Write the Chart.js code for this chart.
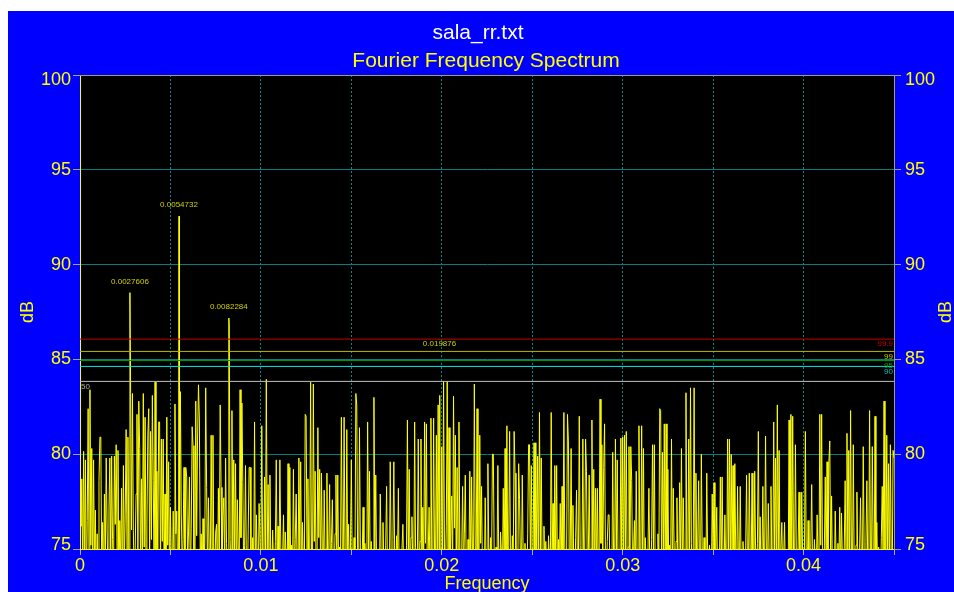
<!DOCTYPE html>
<html>
<head>
<meta charset="utf-8">
<title>sala_rr.txt - Fourier Frequency Spectrum</title>
<script src="https://cdn.jsdelivr.net/npm/chart.js@4.4.1/dist/chart.umd.min.js"></script>
<style>
  html, body { margin: 0; padding: 0; background: #ffffff; overflow: hidden; }
  canvas { display: block; }
</style>
</head>
<body>
<canvas id="spectrum" width="954" height="592"></canvas>
<script>
// ---- data -------------------------------------------------------------
// spectrum level (dB) on a uniform frequency grid, one value per bin
const FREQ_STEP = 0.00005;
const spectrumDb = [
  77.5, 76.2, 78.7, 73.5, 80.15, 74.0, 79.7, 72.8, 76.5, 82.4,
  74.5, 83.4, 75.2, 80.3, 73.0, 79.7, 74.2, 77.05, 72.5, 75.8,
  73.6, 78.6, 80.9, 80.9, 74.0, 76.4, 73.2, 77.9, 74.5, 79.8,
  76.0, 73.4, 77.0, 79.8, 74.1, 79.9, 75.5, 73.0, 79.9, 76.3,
  80.5, 74.6, 80.2, 73.1, 76.5, 74.3, 78.2, 72.9, 79.4, 74.0,
  76.8, 81.3, 74.7, 80.9, 75.0, 73.5, 83.2, 76.0, 83.2, 75.96,
  73.0, 74.8, 77.9, 82.1, 74.2, 82.8, 80.3, 73.6, 78.7, 74.4,
  83.2, 75.1, 81.95, 73.8, 76.3, 81.0, 82.4, 74.0, 81.2, 75.5,
  83.1, 78.6, 73.2, 83.8, 75.0, 79.1, 74.3, 81.7, 81.7, 73.9,
  80.8, 75.4, 80.8, 73.5, 77.9, 74.6, 81.95, 75.2, 79.6, 73.3,
  77.2, 74.0, 72.6, 77.0, 74.4, 82.65, 75.8, 77.0, 73.4, 74.2,
  73.9, 83.3, 76.9, 74.0, 75.5, 79.3, 73.6, 79.3, 78.8, 74.2,
  75.9, 78.8, 73.3, 76.1, 81.45, 80.45, 74.5, 73.0, 82.8, 75.7,
  80.8, 83.66, 81.8, 74.1, 75.8, 73.2, 76.6, 74.0, 75.3, 83.5,
  78.25, 73.7, 77.7, 74.6, 72.9, 81.0, 75.0, 81.0, 74.3, 73.4,
  75.9, 76.3, 73.1, 78.2, 74.8, 82.6, 78.25, 73.5, 76.7, 77.7,
  74.0, 79.8, 75.3, 73.6, 74.5, 86.9, 75.5, 73.8, 82.3, 75.0,
  79.7, 74.2, 79.5, 73.3, 77.6, 74.9, 73.0, 83.4, 75.6, 82.7,
  78.5, 73.9, 75.2, 79.4, 74.0, 72.8, 76.1, 79.3, 79.3, 74.5,
  73.2, 75.6, 74.1, 81.7, 73.5, 76.8, 74.3, 73.1, 77.4, 77.4,
  73.8, 81.5, 74.6, 72.9, 78.8, 74.5, 83.95, 75.0, 78.4, 73.6,
  78.9, 74.4, 73.1, 76.0, 74.2, 72.8, 75.4, 79.7, 73.9, 76.2,
  74.0, 79.7, 75.1, 73.2, 74.6, 76.8, 73.5, 75.9, 74.3, 72.9,
  79.5, 74.8, 79.3, 73.6, 75.2, 74.0, 79.2, 73.3, 75.5, 77.9,
  74.2, 73.0, 79.8, 75.0, 79.6, 73.4, 76.4, 74.1, 73.2, 82.1,
  82.0, 74.5, 78.7, 73.3, 75.1, 83.8, 74.2, 73.6, 83.7, 75.4,
  79.1, 74.0, 73.2, 81.4, 75.6, 79.2, 73.8, 79.0, 74.7, 73.1,
  78.1, 74.3, 75.0, 79.0, 73.5, 74.8, 78.4, 73.0, 75.3, 77.6,
  74.1, 73.4, 75.8, 78.9, 74.0, 78.9, 73.6, 75.1, 74.4, 81.95,
  75.0, 73.5, 81.95, 74.6, 73.1, 81.3, 74.2, 76.3, 73.4, 75.0,
  79.7, 74.1, 73.3, 75.6, 74.0, 83.2, 82.6, 74.4, 73.2, 81.4,
  75.1, 73.7, 74.5, 77.2, 73.4, 75.3, 74.2, 73.0, 81.7, 74.8,
  79.1, 73.5, 75.4, 74.0, 73.2, 83.0, 74.6, 78.9, 73.8, 75.0,
  74.2, 73.1, 77.9, 74.5, 73.6, 76.4, 74.0, 72.9, 75.2, 78.3,
  73.8, 74.6, 73.0, 79.6, 74.9, 73.4, 75.5, 79.6, 74.1, 73.3,
  75.7, 74.4, 78.2, 73.2, 74.8, 73.5, 75.0, 76.3, 73.7, 74.5,
  73.1, 75.2, 81.8, 74.0, 79.2, 73.4, 75.6, 76.7, 74.2, 73.0,
  81.7, 75.1, 73.5, 74.6, 80.8, 73.9, 75.4, 80.8, 73.2, 77.2,
  74.0, 81.7, 75.3, 81.6, 73.6, 74.8, 77.2, 73.4, 81.9, 74.5,
  73.2, 81.9, 75.0, 73.7, 81.0, 74.3, 82.6, 74.0, 75.2, 73.5,
  80.4, 74.1, 83.84, 75.0, 73.6, 76.2, 83.84, 74.8, 81.4, 73.3,
  75.6, 77.8, 74.0, 83.05, 76.1, 81.0, 73.4, 79.3, 74.5, 81.7,
  75.0, 73.2, 74.7, 78.3, 73.6, 75.8, 78.9, 74.1, 73.0, 75.5,
  74.3, 79.1, 73.8, 78.8, 74.6, 73.1, 83.7, 75.2, 73.9, 82.4,
  74.4, 73.2, 81.0, 75.3, 78.3, 73.5, 74.9, 73.1, 77.7, 74.2,
  73.6, 79.5, 74.8, 73.3, 75.6, 74.0, 80.0, 80.0, 74.5, 73.2,
  75.1, 73.8, 79.4, 74.3, 73.0, 75.9, 74.6, 73.4, 78.2, 74.0,
  80.3, 74.7, 81.5, 73.5, 75.2, 81.2, 74.1, 73.3, 75.7, 74.4,
  81.2, 79.0, 73.6, 74.9, 73.2, 79.5, 77.6, 74.3, 73.1, 78.9,
  74.6, 73.4, 75.3, 74.0, 73.0, 75.8, 80.5, 80.5, 74.2, 79.4,
  73.7, 74.8, 80.6, 73.5, 80.6, 74.4, 79.9, 73.9, 82.2, 75.0,
  79.8, 73.6, 74.9, 76.2, 73.3, 75.4, 74.0, 73.1, 75.7, 74.3,
  73.5, 82.2, 74.6, 77.4, 73.8, 79.4, 74.1, 79.4, 73.2, 75.5,
  74.0, 77.4, 73.6, 78.3, 74.7, 82.2, 75.1, 73.4, 74.4, 82.1,
  80.7, 73.9, 74.8, 80.3, 73.5, 77.3, 74.2, 73.0, 75.6, 78.1,
  74.1, 73.4, 82.0, 75.2, 73.7, 74.6, 80.8, 73.9, 74.8, 80.8,
  79.1, 73.3, 74.5, 78.9, 73.6, 75.0, 81.8, 74.2, 79.2, 73.5,
  78.2, 74.0, 78.2, 73.4, 74.6, 82.9, 75.3, 80.5, 73.8, 79.3,
  81.6, 74.1, 73.2, 75.4, 76.8, 76.8, 73.6, 74.7, 73.1, 80.1,
  74.4, 73.5, 80.8, 75.0, 79.7, 73.3, 74.9, 73.7, 80.85, 74.5,
  80.9, 73.8, 81.0, 74.6, 81.2, 73.4, 75.1, 80.4, 74.0, 80.4,
  78.6, 73.6, 74.8, 76.5, 73.2, 79.1, 74.4, 73.5, 81.5, 75.0,
  73.7, 81.5, 74.3, 80.3, 73.1, 75.6, 74.2, 73.4, 75.0, 78.2,
  74.0, 73.3, 75.5, 80.5, 74.7, 80.5, 73.6, 74.9, 73.2, 75.8,
  74.1, 82.4, 82.3, 73.9, 80.1, 74.5, 81.6, 73.5, 81.6, 74.3,
  79.2, 73.4, 75.2, 74.0, 80.8, 73.6, 78.2, 74.8, 73.1, 75.4,
  77.7, 74.2, 73.5, 78.5, 74.6, 80.3, 73.8, 77.7, 74.1, 73.3,
  83.24, 75.0, 73.6, 80.8, 74.4, 83.5, 75.3, 73.5, 74.7, 83.5,
  74.2, 79.0, 73.4, 75.1, 78.6, 74.0, 73.2, 80.0, 74.8, 73.5,
  75.6, 74.1, 73.3, 79.0, 74.5, 73.7, 75.2, 74.0, 73.1, 77.9,
  74.6, 78.5, 73.4, 74.9, 77.2, 73.6, 75.0, 74.2, 78.8, 73.5,
  78.8, 74.3, 73.2, 76.8, 74.0, 73.4, 80.8, 74.7, 80.8, 73.6,
  80.0, 74.5, 79.4, 73.3, 79.5, 74.8, 73.1, 78.3, 74.2, 73.5,
  78.3, 74.0, 73.2, 75.4, 74.6, 73.3, 75.0, 78.9, 74.1, 73.4,
  79.0, 74.5, 73.6, 79.0, 74.2, 73.1, 79.1, 74.8, 73.5, 75.3,
  81.2, 74.0, 76.7, 73.4, 74.6, 78.3, 73.7, 74.9, 80.95, 74.1,
  73.3, 77.4, 74.5, 73.6, 78.3, 74.2, 73.5, 81.7, 74.8, 79.8,
  73.2, 82.6, 74.4, 80.2, 73.7, 75.1, 76.4, 73.5, 74.6, 76.4,
  73.3, 75.0, 74.1, 73.4, 81.8, 74.5, 82.1, 73.8, 82.0, 74.2,
  73.5, 80.5, 74.7, 73.2, 75.2, 78.0, 74.0, 73.4, 78.0, 74.6,
  73.5, 75.0, 81.2, 74.3, 73.2, 76.5, 74.6, 73.7, 75.1, 78.4,
  74.0, 73.3, 75.5, 74.4, 73.1, 76.8, 74.7, 73.4, 82.1, 75.2,
  82.1, 74.0, 73.5, 75.0, 78.8, 74.3, 79.6, 73.6, 79.6, 80.7,
  74.1, 77.8, 73.4, 74.9, 73.2, 77.0, 74.5, 73.6, 75.3, 74.0,
  77.2, 73.5, 76.9, 74.4, 73.1, 75.0, 78.6, 74.2, 81.1, 74.8,
  80.2, 73.5, 82.3, 74.6, 73.3, 80.5, 74.1, 73.4, 75.2, 78.0,
  74.3, 73.6, 75.1, 77.7, 74.0, 73.2, 80.4, 74.7, 73.5, 75.4,
  78.6, 74.1, 73.3, 82.3, 74.6, 73.4, 80.4, 74.9, 73.2, 82.0,
  74.5, 76.4, 73.6, 75.1, 74.0, 73.3, 75.6, 78.3, 74.2, 82.8,
  74.8, 73.5, 81.0, 74.3, 79.5, 73.6, 80.5, 74.4, 73.2, 80.2,
  79.8
];

// labelled spectral peaks
const peakFreq = [0.0027606, 0.0054732, 0.0082284, 0.019876];
const peakDb   = [88.52, 92.55, 87.18, 83.1];
const peakText = ['0.0027606', '0.0054732', '0.0082284', '0.019876'];

// confidence levels (%) and their dB thresholds
const confName = ['99.9', '99', '95', '90', '50'];
const confDb   = [86.07, 85.42, 84.94, 84.63, 83.84];

// axis tick labels
const xTickLabels = ['0', '0.01', '0.02', '0.03', '0.04'];
const yTickValues = [75, 80, 85, 90, 95, 100];

// ---- styling ----------------------------------------------------------
const FONT = "'Liberation Sans', Arial, Helvetica, sans-serif";
const YELLOW = '#ffff00';
const confLine = ['#c80000', '#b8b800', '#009a00', '#00e6e6', '#c0c0c0'];
const confInk  = ['#c80000', '#c8c800', '#00a800', '#00c0c0', '#b0b0b0'];
const X_MAX = 0.045;

// ---- build line data --------------------------------------------------
const spectrumPts = spectrumDb.map((v, i) => ({ x: +(i * FREQ_STEP).toFixed(6), y: v }));
peakFreq.forEach((f, k) => spectrumPts.push({ x: f, y: peakDb[k] }));
spectrumPts.sort((a, b) => a.x - b.x);

const confSets = confDb.map((lvl, k) => ({
  label: confName[k] + '%',
  data: [{ x: 0, y: lvl }, { x: X_MAX, y: lvl }],
  borderColor: confLine[k],
  borderWidth: 1,
  pointRadius: 0,
  order: 1
}));

// ---- painting helpers -------------------------------------------------
const framePlugin = {
  id: 'frame',
  beforeDraw(chart) {
    const { ctx, chartArea: a } = chart;
    ctx.save();
    ctx.fillStyle = '#ffffff';
    ctx.fillRect(0, 0, chart.width, chart.height);
    ctx.fillStyle = '#0000ff';
    ctx.fillRect(8, 11, chart.width - 8, chart.height - 11);
    ctx.fillStyle = '#000000';
    ctx.fillRect(a.left, a.top, a.right - a.left, a.bottom - a.top);
    ctx.restore();

    // keep the end labels of the dB axes inside the frame
    for (const id of ['y', 'y2']) {
      const items = chart.scales[id].getLabelItems();
      if (items._nudged) continue;
      items._nudged = true;
      for (const it of items) {
        if (it.label === String(yTickValues[yTickValues.length - 1])) it.options.translation[1] += 5;
        if (it.label === String(yTickValues[0])) it.options.translation[1] -= 4;
      }
    }
  },
  afterDraw(chart) {
    const { ctx, chartArea: a, scales } = chart;
    const xs = scales.x, ys = scales.y;
    ctx.save();

    // top edge of the plot frame
    ctx.strokeStyle = '#a0a060';
    ctx.lineWidth = 1;
    ctx.beginPath();
    ctx.moveTo(a.left, a.top + 0.5);
    ctx.lineTo(a.right, a.top + 0.5);
    ctx.stroke();

    // titles
    ctx.textAlign = 'center';
    ctx.textBaseline = 'middle';
    ctx.fillStyle = '#ffffff';
    ctx.font = '21px ' + FONT;
    ctx.fillText('sala_rr.txt', 478, 33);
    ctx.fillStyle = YELLOW;
    ctx.font = '21px ' + FONT;
    ctx.fillText('Fourier Frequency Spectrum', 486, 61);

    // axis titles
    ctx.font = '18px ' + FONT;
    ctx.fillText('Frequency', (a.left + a.right) / 2, 584);
    const midY = (a.top + a.bottom) / 2;
    for (const x of [28, 946]) {
      ctx.save();
      ctx.translate(x, midY);
      ctx.rotate(-Math.PI / 2);
      ctx.fillText('dB', 0, 0);
      ctx.restore();
    }

    // confidence level captions
    ctx.font = '8px ' + FONT;
    confDb.forEach((lvl, k) => {
      const y = ys.getPixelForValue(lvl) + 5;
      ctx.fillStyle = confInk[k];
      if (k === confDb.length - 1) {
        ctx.textAlign = 'left';
        ctx.fillText(confName[k], a.left + 1, y);
      } else {
        ctx.textAlign = 'right';
        ctx.fillText(confName[k], a.right - 1, y);
      }
    });

    // peak frequency captions
    ctx.textAlign = 'center';
    ctx.fillStyle = '#d0d000';
    const topLevel = confDb[0];
    peakFreq.forEach((f, k) => {
      const x = xs.getPixelForValue(f);
      const y = peakDb[k] > topLevel
        ? ys.getPixelForValue(peakDb[k]) - 11
        : ys.getPixelForValue(topLevel) + 5;
      ctx.fillText(peakText[k], x, y);
    });
    ctx.restore();
  }
};

// ---- chart ------------------------------------------------------------
const tickFont = { family: FONT, size: 18 };

new Chart(document.getElementById('spectrum'), {
  type: 'line',
  data: {
    datasets: [
      {
        label: 'spectrum',
        data: spectrumPts,
        borderColor: YELLOW,
        borderWidth: 1,
        pointRadius: 0,
        tension: 0,
        order: 2
      },
      ...confSets
    ]
  },
  options: {
    responsive: false,
    animation: false,
    devicePixelRatio: 1,
    events: [],
    layout: { padding: { top: 75, left: 0, right: 0, bottom: 0 } },
    plugins: {
      legend: { display: false },
      title: { display: false },
      tooltip: { enabled: false }
    },
    scales: {
      x: {
        type: 'linear',
        min: 0,
        max: X_MAX,
        afterFit(s) { s.height = 43; },
        ticks: {
          stepSize: 0.005,
          autoSkip: false,
          maxRotation: 0,
          padding: 0,
          color: YELLOW,
          font: tickFont,
          callback(v) {
            const k = Math.round(v / 0.005);
            return (k % 2 === 0 && k / 2 < xTickLabels.length) ? xTickLabels[k / 2] : '';
          }
        },
        grid: {
          color(c) {
            const v = c.tick ? c.tick.value : 0;
            return (v <= 0 || v >= X_MAX - 1e-9) ? 'rgba(0,0,0,0)' : '#008c8c';
          },
          lineWidth: 1,
          tickLength: 6,
          tickColor: '#b0b0b0'
        },
        border: { display: true, color: YELLOW, width: 1, dash: [2, 2] }
      },
      y: {
        position: 'left',
        min: 75,
        max: 100,
        afterFit(s) { s.width = 80; },
        afterBuildTicks(s) { s.ticks = yTickValues.map(v => ({ value: v })); },
        ticks: {
          padding: 2,
          color: YELLOW,
          font: tickFont,
          callback: v => String(v)
        },
        grid: {
          color(c) {
            const v = c.tick ? c.tick.value : 75;
            return (v <= 75 || v >= 100) ? 'rgba(0,0,0,0)' : '#008080';
          },
          lineWidth: 1,
          tickLength: 7,
          tickColor: '#a0a0a0'
        },
        border: { display: true, color: YELLOW, width: 1 }
      },
      y2: {
        position: 'right',
        display: true,
        min: 75,
        max: 100,
        afterFit(s) { s.width = 60; },
        afterBuildTicks(s) { s.ticks = yTickValues.map(v => ({ value: v })); },
        ticks: {
          padding: 4,
          color: YELLOW,
          font: tickFont,
          callback: v => String(v)
        },
        grid: {
          drawOnChartArea: false,
          tickLength: 7,
          tickColor: '#a0a0a0'
        },
        border: { display: true, color: '#a0a060', width: 1 }
      }
    }
  },
  plugins: [framePlugin]
});
</script>
</body>
</html>
